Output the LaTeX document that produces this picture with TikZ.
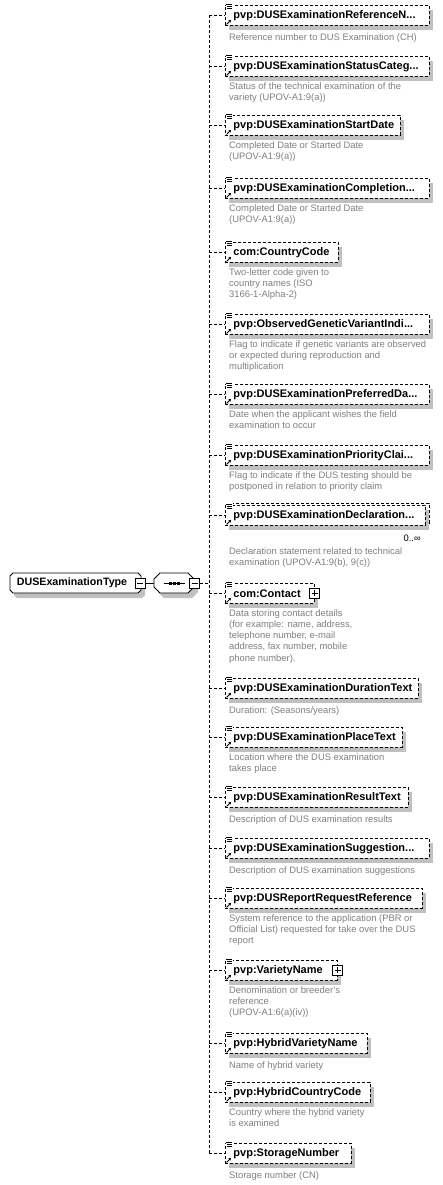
\documentclass[tikz,border=0pt]{standalone}
\usepackage{fontspec}
\setmainfont{Liberation Sans}
\usetikzlibrary{shadows,arrows.meta}
\definecolor{descgray}{RGB}{128,128,128}
\definecolor{shadowgray}{RGB}{192,192,192}
\tikzset{
  conn/.style={line width=0.9pt, dash pattern=on 3pt off 2pt},
  solidconn/.style={line width=0.9pt},
  elbox/.style={draw, fill=white, line width=0.9pt, dash pattern=on 3pt off 2pt,
    anchor=north west, minimum height=20pt, inner xsep=8pt, inner ysep=0pt, align=left,
    font=\fontsize{11}{13}\selectfont\bfseries},
  elshadow/.style={drop shadow={shadow xshift=4pt, shadow yshift=-5pt, fill=shadowgray, opacity=1, draw=none}},
  desc/.style={anchor=north west, inner sep=0pt, align=left, text=descgray,
    font=\fontsize{9.4}{11.3}\selectfont, execute at begin node={\rule{0pt}{9pt}}},
  roottext/.style={inner sep=0pt, font=\fontsize{10.7}{13}\selectfont\bfseries},
  chamfshape/.style={draw, fill=white, line width=0.9pt},
  chamfshadow/.style={fill=shadowgray, shift={(4,5)}},
  seqnode/.style={inner sep=0pt, minimum width=40pt, minimum height=20pt},
  minusbox/.style={draw, fill=white, line width=0.9pt, minimum size=10pt, inner sep=0pt,
    path picture={\draw[line width=0.9pt] ([xshift=2pt]path picture bounding box.west) -- ([xshift=-2pt]path picture bounding box.east);}},
  plusbox/.style={draw, fill=white, line width=0.9pt, minimum size=10pt, inner sep=0pt,
    path picture={\draw[line width=0.9pt] ([xshift=2pt]path picture bounding box.west) -- ([xshift=-2pt]path picture bounding box.east);
      \draw[line width=0.9pt] ([yshift=-2pt]path picture bounding box.north) -- ([yshift=2pt]path picture bounding box.south);}},
  mult/.style={anchor=base east, inner sep=0pt, font=\fontsize{9.4}{11}\selectfont},
}
\newcommand\elicons[1]{%
  \fill[white] ([shift={(0.5,-2)}]#1.north west) rectangle ([shift={(7.5,4)}]#1.north west);
  \draw[line width=0.8pt] ([shift={(1,-1)}]#1.north west) -- ++(6,0);
  \draw[line width=0.8pt] ([shift={(2,1)}]#1.north west) -- ++(5,0);
  \draw[line width=0.8pt] ([shift={(2,3)}]#1.north west) -- ++(5,0);
  \draw[line width=0.9pt, -{Stealth[length=2.5pt,width=3pt]}] ([shift={(1.5,-1.5)}]#1.south west) -- ++(4.5,-4.5);
}
\newcommand\elem[6][26]{%
  \edef\mytw{\the\numexpr#4-16\relax}%
  \node[elbox, elshadow, text width=\mytw pt] (e#2) at (225,#3) {\mbox{#5}};
  \node[desc] (d#2) at (229,#3+#1) {#6};
  \elicons{e#2}
}
\begin{document}
\begin{tikzpicture}[x=1pt,y=-1pt]
\useasboundingbox[fill=white] (0,0) rectangle (443,1185);

% root and sequence outlines (chamfered)
\fill[chamfshadow] (13,573) -- (138,573) -- (141,576) -- (141,590) -- (138,593) -- (13,593) -- (10,590) -- (10,576) -- cycle;
\path[chamfshape] (13,573) -- (138,573) -- (141,576) -- (141,590) -- (138,593) -- (13,593) -- (10,590) -- (10,576) -- cycle;
\fill[chamfshadow] (160,573) -- (188,573) -- (194,579) -- (194,587) -- (188,593) -- (160,593) -- (154,587) -- (154,579) -- cycle;
\path[chamfshape] (160,573) -- (188,573) -- (194,579) -- (194,587) -- (188,593) -- (160,593) -- (154,587) -- (154,579) -- cycle;

\node[roottext] (root) at (72,583) {DUSExaminationType};
\node[minusbox] (rootm) at (140,583) {};
\node[seqnode] (seq) at (174,583) {};
\node[minusbox] (seqm) at (194.5,583) {};
\draw[solidconn] ([xshift=-10pt]seq.center) -- ([xshift=11pt]seq.center);
\foreach \dx in {-4,0,4}{\fill ([shift={(\dx-1.5,-1.5)}]seq.center) rectangle ++(3,3);}
\draw[solidconn] (rootm.east) -- (seq.west);
\coordinate (j) at (209,583);
\draw[conn] (seqm.east) -- (j);

% elements
\elem{1}{5}{204}{pvp:DUSExaminationReferenceN...}{Reference number to DUS Examination (CH)}
\elem{2}{56}{204}{pvp:DUSExaminationStatusCateg...}{Status of the technical examination of the\\variety (UPOV-A1:9(a))}
\elem{3}{115}{175}{pvp:DUSExaminationStartDate}{Completed Date or Started Date\\(UPOV-A1:9(a))}
\elem{4}{178}{204}{pvp:DUSExaminationCompletion...}{Completed Date or Started Date\\(UPOV-A1:9(a))}
\elem{5}{242}{113}{com:CountryCode}{Two-letter code given to\\country names (ISO\\3166-1-Alpha-2)}
\elem{6}{314}{204}{pvp:ObservedGeneticVariantIndi...}{Flag to indicate if genetic variants are observed\\or expected during reproduction and\\multiplication}
\elem{7}{384}{204}{pvp:DUSExaminationPreferredDa...}{Date when the applicant wishes the field\\examination to occur}
\elem{8}{445}{204}{pvp:DUSExaminationPriorityClai...}{Flag to indicate if the DUS testing should be\\postponed in relation to priority claim}
% multiple occurrence element: back box
\node[elbox, minimum width=200pt] (e9b) at (229,503) {};
\elem[42.5]{9}{505}{200}{pvp:DUSExaminationDeclaration...}{Declaration statement related to technical\\examination (UPOV-A1:9(b), 9(c))}
\node[mult] (m9) at (421,541) {0..∞};
\elem{10}{583}{89}{com:Contact}{Data storing contact details\\(for example: name, address,\\telephone number, e-mail\\address, fax number, mobile\\phone number).}
\node[plusbox] (p10) at (e10.east) {};
\elem{11}{678}{193}{pvp:DUSExaminationDurationText}{Duration: (Seasons/years)}
\elem{12}{727}{177}{pvp:DUSExaminationPlaceText}{Location where the DUS examination\\takes place}
\elem{13}{787}{183}{pvp:DUSExaminationResultText}{Description of DUS examination results}
\elem{14}{838}{204}{pvp:DUSExaminationSuggestion...}{Description of DUS examination suggestions}
\elem{15}{888}{197}{pvp:DUSReportRequestReference}{System reference to the application (PBR or\\Official List) requested for take over the DUS\\report}
\elem{16}{960}{112}{pvp:VarietyName}{Denomination or breeder's\\reference\\(UPOV-A1:6(a)(iv))}
\node[plusbox] (p16) at (e16.east) {};
\elem{17}{1033}{142}{pvp:HybridVarietyName}{Name of hybrid variety}
\elem{18}{1082}{145}{pvp:HybridCountryCode}{Country where the hybrid variety\\is examined}
\elem{19}{1143}{126}{pvp:StorageNumber}{Storage number (CN)}

% connectors
\draw[conn] (j |- e1.west) -- (j |- e19.west);
\foreach \i in {1,...,19}{\draw[conn] (j |- e\i.west) -- (e\i.west);}
\end{tikzpicture}
\end{document}
